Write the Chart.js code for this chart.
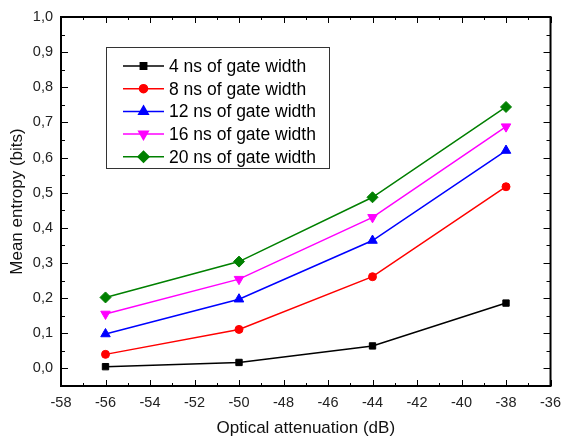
<!DOCTYPE html>
<html>
<head>
<meta charset="utf-8">
<script src="https://cdn.jsdelivr.net/npm/chart.js@4"></script>
<style>
  html, body { margin: 0; padding: 0; background: #fff; }
  #wrap { width: 569px; height: 439px; }
</style>
</head>
<body>
<div id="wrap"><canvas id="chart"></canvas></div>
<script>
const attenuation = [-56, -50, -44, -38];
const gate4 = [0.005, 0.017, 0.064, 0.186];
const gate8 = [0.040, 0.111, 0.261, 0.517];
const gate12 = [0.098, 0.197, 0.364, 0.620];
const gate16 = [0.155, 0.254, 0.430, 0.688];
const gate20 = [0.202, 0.304, 0.487, 0.744];
const seriesNames = ['4 ns of gate width', '8 ns of gate width', '12 ns of gate width', '16 ns of gate width', '20 ns of gate width'];
const xTicks = [-58, -56, -54, -52, -50, -48, -46, -44, -42, -40, -38, -36];
const yTicks = [0, 0.1, 0.2, 0.3, 0.4, 0.5, 0.6, 0.7, 0.8, 0.9, 1.0];

function pts(ys) {
  return attenuation.map((x, i) => ({x: x, y: ys[i]}));
}

function makeSet(label, ys, color, style, radius, rotation) {
  return {
    label: label,
    data: pts(ys),
    borderColor: color,
    backgroundColor: color,
    borderWidth: 1.5,
    pointStyle: style,
    pointRadius: radius,
    pointRotation: rotation,
    pointBorderWidth: 1,
    pointBorderColor: color,
    pointBackgroundColor: color
  };
}

const font = '"Liberation Sans", Arial, sans-serif';

// frame with inward ticks, like the original plot
const frameTicks = {
  id: 'frameTicks',
  afterDatasetsDraw(chart) {
    const {ctx, chartArea: a, scales} = chart;
    const xs = scales.x, ys = scales.y;
    ctx.save();
    ctx.strokeStyle = '#000';
    ctx.lineWidth = 1;
    for (let v = -58; v <= -36; v += 1) {
      const px = Math.round(xs.getPixelForValue(v)) + 0.5;
      const len = (v % 2 === 0) ? 6 : 3;
      ctx.beginPath();
      ctx.moveTo(px, a.bottom); ctx.lineTo(px, a.bottom - len);
      ctx.moveTo(px, a.top); ctx.lineTo(px, a.top + len);
      ctx.stroke();
    }
    for (let i = -1; i <= 20; i++) {
      const v = i * 0.05;
      const py = Math.round(ys.getPixelForValue(v)) + 0.5;
      const len = (i % 2 === 0) ? 7 : 4;
      ctx.beginPath();
      ctx.moveTo(a.left, py); ctx.lineTo(a.left + len, py);
      ctx.moveTo(a.right, py); ctx.lineTo(a.right - len, py);
      ctx.stroke();
    }
    ctx.lineWidth = 2;
    ctx.strokeRect(a.left, a.top, a.right - a.left, a.bottom - a.top);
    ctx.restore();
  }
};

// legend box inside the plot
const innerLegend = {
  id: 'innerLegend',
  afterDraw(chart) {
    const ctx = chart.ctx;
    const bx = 106, by = 47, bw = 223, bh = 121;
    ctx.save();
    ctx.fillStyle = '#fff';
    ctx.fillRect(bx, by, bw, bh);
    ctx.strokeStyle = '#333';
    ctx.lineWidth = 1;
    ctx.strokeRect(bx + 0.5, by + 0.5, bw, bh);
    ctx.font = '17.5px ' + font;
    ctx.textBaseline = 'middle';
    chart.data.datasets.forEach((ds, i) => {
      const y = 66 + i * 22.7;
      ctx.strokeStyle = ds.borderColor;
      ctx.lineWidth = 1.5;
      ctx.beginPath();
      ctx.moveTo(123, y); ctx.lineTo(164, y);
      ctx.stroke();
      ctx.fillStyle = ds.backgroundColor;
      Chart.helpers.drawPoint(ctx, {
        pointStyle: ds.pointStyle,
        radius: ds.pointRadius,
        rotation: ds.pointRotation,
        borderWidth: 1
      }, 143.5, y);
      ctx.fillStyle = '#000';
      ctx.fillText(ds.label, 169, y + 1);
    });
    ctx.restore();
  }
};

new Chart(document.getElementById('chart'), {
  type: 'line',
  data: {
    datasets: [
      makeSet(seriesNames[0], gate4, '#000000', 'rect', 4.5, 0),
      makeSet(seriesNames[1], gate8, '#ff0000', 'circle', 4, 0),
      makeSet(seriesNames[2], gate12, '#0000ff', 'triangle', 5.5, 0),
      makeSet(seriesNames[3], gate16, '#ff00ff', 'triangle', 5.5, 180),
      makeSet(seriesNames[4], gate20, '#008000', 'rectRot', 5.5, 0)
    ]
  },
  options: {
    responsive: true,
    maintainAspectRatio: false,
    animation: false,
    layout: {padding: {left: 0, top: 17, right: 12, bottom: 0}},
    plugins: {
      legend: {display: false},
      tooltip: {enabled: false}
    },
    scales: {
      x: {
        type: 'linear',
        min: -58,
        max: -36,
        grid: {display: false, drawTicks: false},
        border: {display: false},
        afterBuildTicks: s => { s.ticks = xTicks.map(v => ({value: v})); },
        afterFit: s => { s.height = 53; },
        ticks: {
          color: '#222',
          font: {family: font, size: 14.5},
          padding: 8,
          maxRotation: 0,
          callback: v => String(v)
        },
        title: {
          display: true,
          text: 'Optical attenuation (dB)',
          color: '#111',
          font: {family: font, size: 17},
          padding: {top: 3, bottom: 0}
        }
      },
      y: {
        type: 'linear',
        min: -0.05,
        max: 1.0,
        grid: {display: false, drawTicks: false},
        border: {display: false},
        afterBuildTicks: s => { s.ticks = yTicks.map(v => ({value: v})); },
        afterFit: s => { s.width = 61; },
        ticks: {
          color: '#222',
          font: {family: font, size: 14.5},
          padding: 8,
          callback: v => v.toFixed(1).replace('.', ',')
        },
        title: {
          display: true,
          text: 'Mean entropy (bits)',
          color: '#111',
          font: {family: font, size: 17},
          padding: {top: 7, bottom: 0}
        }
      }
    }
  },
  plugins: [frameTicks, innerLegend]
});
</script>
</body>
</html>
